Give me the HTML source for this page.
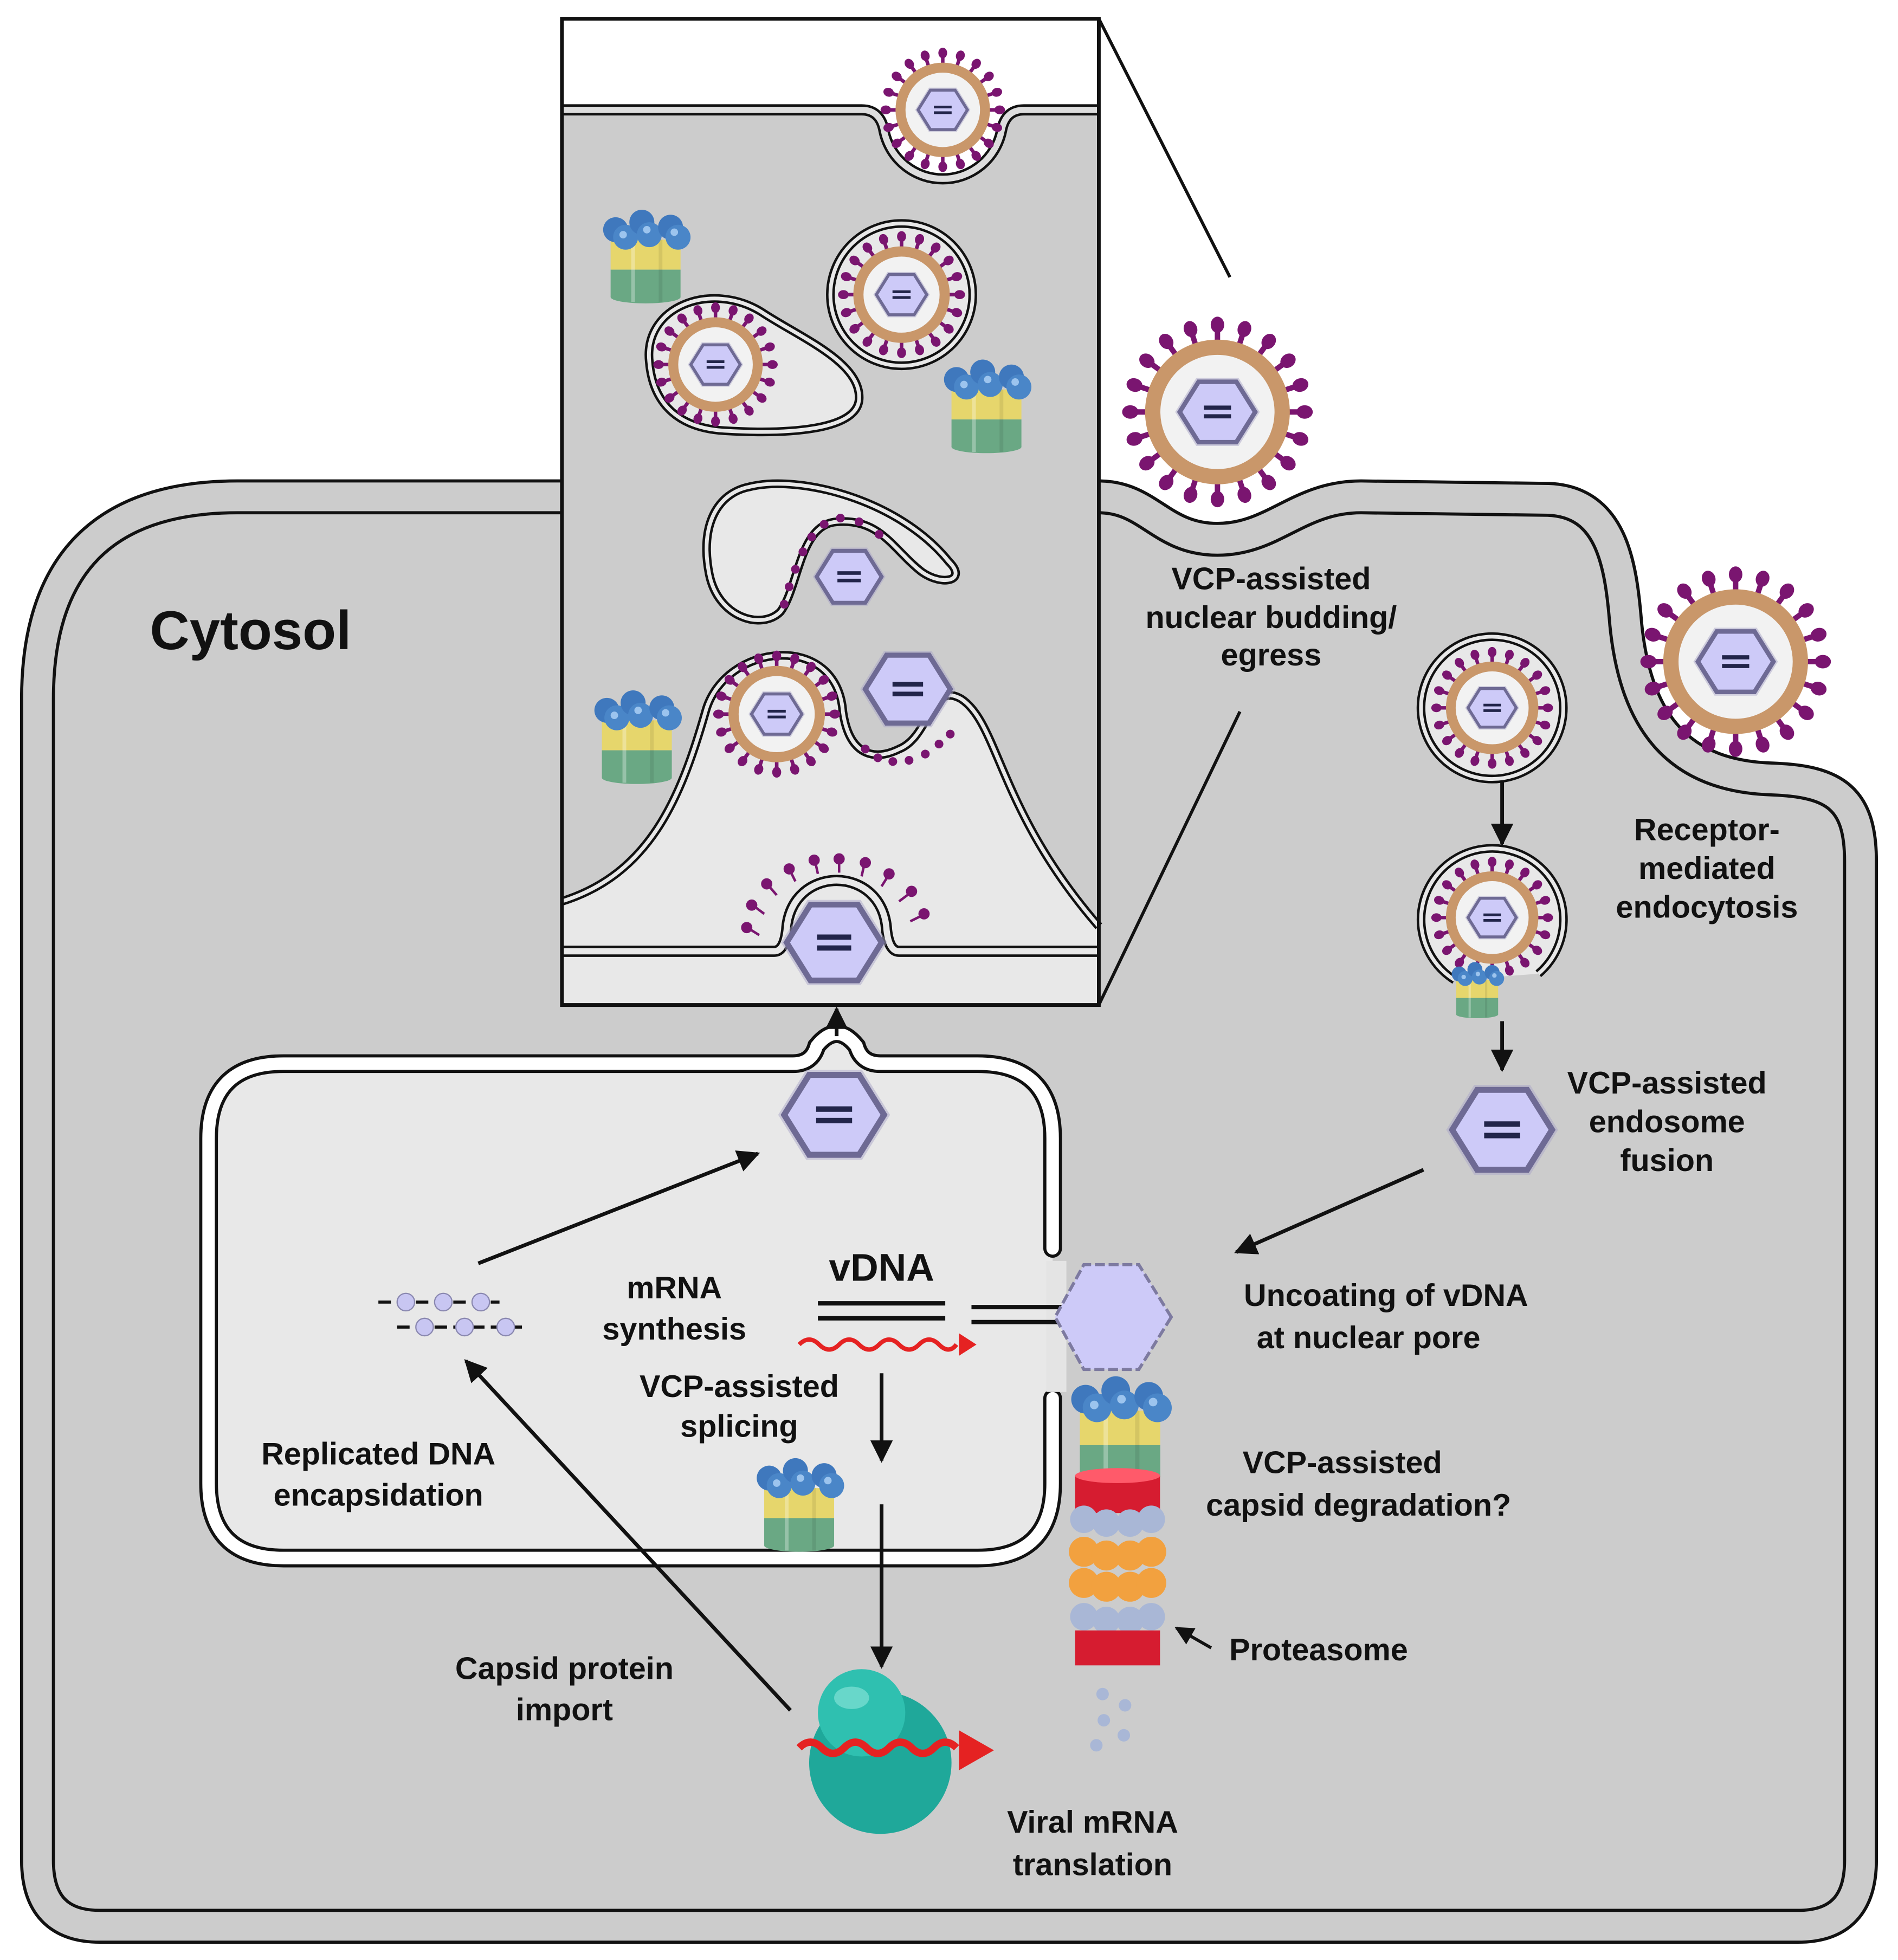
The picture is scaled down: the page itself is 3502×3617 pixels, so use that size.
<!DOCTYPE html>
<html><head><meta charset="utf-8"><style>
html,body{margin:0;padding:0;background:#fff}
svg{display:block}
text{font-family:"Liberation Sans",sans-serif;font-weight:bold;fill:#111}
</style></head><body>
<svg width="3502" height="3617" viewBox="0 0 1520 1570" xmlns="http://www.w3.org/2000/svg">
<defs>
<marker id="ah" viewBox="0 0 10 10" refX="9" refY="5" markerWidth="6" markerHeight="6" orient="auto-start-reverse"><path d="M0,0 L10,5 L0,10 Z" fill="#111"/></marker>
<g id="hex"><polygon points="1.12,0 0.56,0.9 -0.56,0.9 -1.12,0 -0.56,-0.9 0.56,-0.9" fill="#a9a6c8" opacity="0.5"/><polygon points="1,0 0.5,0.8 -0.5,0.8 -1,0 -0.5,-0.8 0.5,-0.8" fill="#cdcaf8" stroke="#6e6a94" stroke-width="0.12"/><rect x="-0.36" y="-0.17" width="0.72" height="0.11" fill="#22254a"/><rect x="-0.36" y="0.06" width="0.72" height="0.11" fill="#22254a"/></g>
<g id="sp"><line x1="0" y1="-0.8" x2="0" y2="-0.97" stroke="#7a1570" stroke-width="0.06"/><ellipse cx="0" cy="-0.97" rx="0.075" ry="0.09" fill="#7a1570"/></g>
<g id="vir">
<use href="#sp"/><use href="#sp" transform="rotate(18)"/><use href="#sp" transform="rotate(36)"/><use href="#sp" transform="rotate(54)"/><use href="#sp" transform="rotate(72)"/><use href="#sp" transform="rotate(90)"/><use href="#sp" transform="rotate(108)"/><use href="#sp" transform="rotate(126)"/><use href="#sp" transform="rotate(144)"/><use href="#sp" transform="rotate(162)"/><use href="#sp" transform="rotate(180)"/><use href="#sp" transform="rotate(198)"/><use href="#sp" transform="rotate(216)"/><use href="#sp" transform="rotate(234)"/><use href="#sp" transform="rotate(252)"/><use href="#sp" transform="rotate(270)"/><use href="#sp" transform="rotate(288)"/><use href="#sp" transform="rotate(306)"/><use href="#sp" transform="rotate(324)"/><use href="#sp" transform="rotate(342)"/>
<circle r="0.72" fill="#f2f2f2" stroke="#c9976a" stroke-width="0.17"/>
<use href="#hex" transform="scale(0.42)"/>
</g>
<g id="vcp">
<rect x="-28" y="0" width="56" height="24" fill="#e6d66c"/><rect x="-28" y="24" width="56" height="22" fill="#6aa884"/>
<ellipse cx="0" cy="46" rx="28" ry="5" fill="#6aa884"/>
<line x1="-10" y1="0" x2="-10" y2="50" stroke="#fff" stroke-opacity="0.3" stroke-width="3"/>
<line x1="12" y1="0" x2="12" y2="50" stroke="#000" stroke-opacity="0.08" stroke-width="3"/>
<circle cx="-24" cy="-8" r="10" fill="#3f78bd"/><circle cx="-16" cy="-2" r="10" fill="#4a86c8"/>
<circle cx="-3" cy="-14" r="10" fill="#3f78bd"/><circle cx="3" cy="-4" r="10" fill="#4a86c8"/>
<circle cx="20" cy="-10" r="10" fill="#3f78bd"/><circle cx="26" cy="-2" r="10" fill="#4a86c8"/>
<circle cx="-18" cy="-4" r="3" fill="#9cc4ee"/><circle cx="1" cy="-8" r="3" fill="#9cc4ee"/><circle cx="23" cy="-6" r="3" fill="#9cc4ee"/>
</g>
</defs>

<!-- cell -->
<path d="M30,560 Q30,398 190,398 L880,398 C920,398 930,432 975,432 C1020,432 1040,398 1090,398 L1240,400 C1290,402 1298,450 1302,500 C1310,580 1345,622 1420,624 C1470,626 1490,640 1490,690 L1490,1490 Q1490,1543 1440,1543 L80,1543 Q30,1543 30,1490 Z" fill="#cccccc" stroke="#111" stroke-width="28"/>
<path d="M30,560 Q30,398 190,398 L880,398 C920,398 930,432 975,432 C1020,432 1040,398 1090,398 L1240,400 C1290,402 1298,450 1302,500 C1310,580 1345,622 1420,624 C1470,626 1490,640 1490,690 L1490,1490 Q1490,1543 1440,1543 L80,1543 Q30,1543 30,1490 Z" fill="none" stroke="#cccccc" stroke-width="23"/>

<text x="120" y="520" font-size="44">Cytosol</text>

<!-- nucleus -->
<path d="M843,912 Q843,852 783,852 L705,852 Q690,852 686,838 Q670,818 654,838 Q650,852 635,852 L227,852 Q167,852 167,912 L167,1188 Q167,1248 227,1248 L783,1248 Q843,1248 843,1188 Z" fill="#e8e8e8"/>
<path d="M843,1000 L843,912 Q843,852 783,852 L705,852 Q690,852 686,838 Q670,818 654,838 Q650,852 635,852 L227,852 Q167,852 167,912 L167,1188 Q167,1248 227,1248 L783,1248 Q843,1248 843,1188 L843,1120" fill="none" stroke="#111" stroke-width="15" stroke-linecap="round"/>
<path d="M843,1000 L843,912 Q843,852 783,852 L705,852 Q690,852 686,838 Q670,818 654,838 Q650,852 635,852 L227,852 Q167,852 167,912 L167,1188 Q167,1248 227,1248 L783,1248 Q843,1248 843,1188 L843,1120" fill="none" stroke="#fff" stroke-width="10" stroke-linecap="round"/>
<rect x="838" y="1010" width="16" height="105" fill="#e4e4e4"/>

<use href="#hex" transform="translate(668,893) scale(40)"/>
<line x1="670" y1="830" x2="670" y2="808" stroke="#111" stroke-width="3" marker-end="url(#ah)"/>

<!-- inset box -->
<rect x="450" y="15" width="430" height="790" fill="#cccccc"/>
<path d="M450,15 L880,15 L880,88 L820,88 Q805,88 802,105 A48,48 0 0 1 708,105 Q705,88 690,88 L450,88 Z" fill="#fff"/>
<path d="M450,88 L690,88 Q705,88 708,105 A48,48 0 0 0 802,105 Q805,88 820,88 L880,88" fill="none" stroke="#111" stroke-width="9"/>
<path d="M450,88 L690,88 Q705,88 708,105 A48,48 0 0 0 802,105 Q805,88 820,88 L880,88" fill="none" stroke="#ddd" stroke-width="5"/>
<use href="#vir" transform="translate(755,88) scale(47)"/>

<!-- perinuclear lower region -->
<path d="M450,722 C520,700 545,640 565,570 C580,515 670,505 675,570 C680,605 700,610 720,600 C745,590 745,545 770,560 C800,580 800,650 880,742 L880,805 L450,805 Z" fill="#e8e8e8"/>
<path d="M450,722 C520,700 545,640 565,570 C580,515 670,505 675,570 C680,605 700,610 720,600 C745,590 745,545 770,560 C800,580 800,650 880,742" fill="none" stroke="#111" stroke-width="7"/>
<path d="M450,722 C520,700 545,640 565,570 C580,515 670,505 675,570 C680,605 700,610 720,600 C745,590 745,545 770,560 C800,580 800,650 880,742" fill="none" stroke="#e8e8e8" stroke-width="3"/>
<path d="M450,762 L620,762 Q628,762 630,745 C633,692 707,692 710,745 Q712,762 720,762 L880,762" fill="none" stroke="#111" stroke-width="9"/>
<path d="M450,762 L620,762 Q628,762 630,745 C633,692 707,692 710,745 Q712,762 720,762 L880,762" fill="none" stroke="#e8e8e8" stroke-width="5"/>
<!-- spikes on bump -->
<g stroke="#7a1570" stroke-width="2" fill="#7a1570" transform="translate(0,14)">
<line x1="608" y1="735" x2="600" y2="730"/><circle cx="598" cy="729" r="3.5"/>
<line x1="612" y1="718" x2="604" y2="712"/><circle cx="602" cy="711" r="3.5"/>
<line x1="622" y1="703" x2="616" y2="696"/><circle cx="614" cy="694" r="3.5"/>
<line x1="637" y1="692" x2="633" y2="684"/><circle cx="632" cy="682" r="3.5"/>
<line x1="655" y1="686" x2="653" y2="677"/><circle cx="652" cy="675" r="3.5"/>
<line x1="672" y1="685" x2="672" y2="676"/><circle cx="672" cy="674" r="3.5"/>
<line x1="690" y1="688" x2="692" y2="679"/><circle cx="693" cy="677" r="3.5"/>
<line x1="706" y1="696" x2="711" y2="688"/><circle cx="712" cy="686" r="3.5"/>
<line x1="720" y1="708" x2="728" y2="702"/><circle cx="730" cy="700" r="3.5"/>
<line x1="729" y1="724" x2="737" y2="720"/><circle cx="740" cy="718" r="3.5"/>
</g>
<use href="#hex" transform="translate(668,755) scale(38)"/>

<g fill="#7a1570">
<circle cx="693" cy="600" r="3.5"/><circle cx="703" cy="607" r="3.5"/><circle cx="715" cy="610" r="3.5"/><circle cx="728" cy="609" r="3.5"/><circle cx="741" cy="604" r="3.5"/><circle cx="752" cy="596" r="3.5"/><circle cx="761" cy="588" r="3.5"/>
</g>
<use href="#vir" transform="translate(622,572) scale(48)"/>
<use href="#hex" transform="translate(727,552) scale(34)"/>

<circle cx="722" cy="236" r="57" fill="#e8e8e8" stroke="#111" stroke-width="7"/>
<circle cx="722" cy="236" r="57" fill="none" stroke="#e8e8e8" stroke-width="3"/>
<use href="#vir" transform="translate(722,236) scale(48)"/>

<path d="M520,290 C515,245 570,225 610,250 C640,270 690,290 688,320 C686,345 630,348 580,345 C545,343 523,325 520,290 Z" fill="#e8e8e8" stroke="#111" stroke-width="7"/>
<path d="M520,290 C515,245 570,225 610,250 C640,270 690,290 688,320 C686,345 630,348 580,345 C545,343 523,325 520,290 Z" fill="none" stroke="#e8e8e8" stroke-width="3"/>
<use href="#vir" transform="translate(573,292) scale(47)"/>

<path d="M600,390 C640,380 720,400 760,450 C775,465 755,470 738,458 C715,440 705,415 670,418 C640,420 640,470 625,490 C610,505 575,495 568,460 C560,420 575,395 600,390 Z" fill="#e8e8e8" stroke="#111" stroke-width="7"/>
<path d="M600,390 C640,380 720,400 760,450 C775,465 755,470 738,458 C715,440 705,415 670,418 C640,420 640,470 625,490 C610,505 575,495 568,460 C560,420 575,395 600,390 Z" fill="none" stroke="#e8e8e8" stroke-width="3"/>
<g fill="#7a1570"><circle cx="628" cy="484" r="3.5"/><circle cx="632" cy="470" r="3.5"/><circle cx="637" cy="456" r="3.5"/><circle cx="643" cy="442" r="3.5"/><circle cx="650" cy="430" r="3.5"/><circle cx="660" cy="420" r="3.5"/><circle cx="673" cy="415" r="3.5"/><circle cx="688" cy="418" r="3.5"/><circle cx="704" cy="428" r="3.5"/></g>
<use href="#hex" transform="translate(680,462) scale(26)"/>

<use href="#vcp" transform="translate(517,192)"/>
<use href="#vcp" transform="translate(790,312)"/>
<use href="#vcp" transform="translate(510,577)"/>

<rect x="450" y="15" width="430" height="790" fill="none" stroke="#111" stroke-width="3"/>
<line x1="880" y1="15" x2="985" y2="222" stroke="#111" stroke-width="2.5"/>
<line x1="880" y1="805" x2="993" y2="570" stroke="#111" stroke-width="2.5"/>

<use href="#vir" transform="translate(975,330) scale(72)"/>
<use href="#vir" transform="translate(1390,530) scale(72)"/>

<circle cx="1195" cy="567" r="57" fill="#e8e8e8" stroke="#111" stroke-width="7"/>
<circle cx="1195" cy="567" r="57" fill="none" stroke="#e8e8e8" stroke-width="3"/>
<use href="#vir" transform="translate(1195,567) scale(46)"/>
<line x1="1203" y1="626" x2="1203" y2="676" stroke="#111" stroke-width="3" marker-end="url(#ah)"/>
<path d="M1165,785 A57,57 0 1 1 1232,780" fill="#e8e8e8" stroke="#111" stroke-width="7"/>
<path d="M1165,785 A57,57 0 1 1 1232,780" fill="none" stroke="#e8e8e8" stroke-width="3"/>
<use href="#vir" transform="translate(1195,735) scale(46)"/>
<use href="#vcp" transform="translate(1183,785) scale(0.6)"/>
<line x1="1203" y1="818" x2="1203" y2="857" stroke="#111" stroke-width="3" marker-end="url(#ah)"/>
<use href="#hex" transform="translate(1203,905) scale(40)"/>
<line x1="1140" y1="937" x2="990" y2="1003" stroke="#111" stroke-width="3" marker-end="url(#ah)"/>

<line x1="778" y1="1047" x2="852" y2="1047" stroke="#111" stroke-width="3.5"/>
<line x1="778" y1="1059" x2="852" y2="1059" stroke="#111" stroke-width="3.5"/>
<polygon points="938,1055 912,1097 868,1097 845,1055 868,1013 912,1013" fill="#cdcaf8" stroke="#7d7aa0" stroke-width="2.5" stroke-dasharray="8,3"/>
<use href="#vcp" transform="translate(897,1130) scale(1.15)"/>
<rect x="861" y="1182" width="68" height="30" fill="#d61c30"/><ellipse cx="895" cy="1182" rx="34" ry="6" fill="#ff5a6a"/>
<g fill="#a9b7d6"><circle cx="868" cy="1217" r="11"/><circle cx="886" cy="1220" r="11"/><circle cx="905" cy="1220" r="11"/><circle cx="922" cy="1217" r="11"/></g>
<g fill="#f2a13f"><circle cx="868" cy="1243" r="12"/><circle cx="886" cy="1246" r="12"/><circle cx="905" cy="1246" r="12"/><circle cx="922" cy="1243" r="12"/><circle cx="868" cy="1268" r="12"/><circle cx="886" cy="1271" r="12"/><circle cx="905" cy="1271" r="12"/><circle cx="922" cy="1268" r="12"/></g>
<g fill="#a9b7d6"><circle cx="868" cy="1295" r="11"/><circle cx="886" cy="1298" r="11"/><circle cx="905" cy="1298" r="11"/><circle cx="922" cy="1295" r="11"/></g>
<rect x="861" y="1306" width="68" height="28" fill="#d61c30"/>
<g fill="#a9b7d6"><circle cx="883" cy="1357" r="5"/><circle cx="901" cy="1366" r="5"/><circle cx="884" cy="1378" r="5"/><circle cx="900" cy="1390" r="5"/><circle cx="878" cy="1398" r="5"/></g>
<line x1="970" y1="1320" x2="942" y2="1304" stroke="#111" stroke-width="2.5" marker-end="url(#ah)"/>

<text x="706" y="1026" font-size="31" text-anchor="middle">vDNA</text>
<line x1="655" y1="1044" x2="757" y2="1044" stroke="#111" stroke-width="3.5"/>
<line x1="655" y1="1056" x2="757" y2="1056" stroke="#111" stroke-width="3.5"/>
<path d="M640,1077 q8,-8 16,0 t16,0 t16,0 t16,0 t16,0 t16,0 t16,0 t14,0" fill="none" stroke="#e52222" stroke-width="3.5"/>
<polygon points="768,1068 782,1077 768,1086" fill="#e52222"/>
<g stroke="#111" stroke-width="2.5"><line x1="303" y1="1043" x2="400" y2="1043" stroke-dasharray="10,5"/><line x1="318" y1="1063" x2="420" y2="1063" stroke-dasharray="10,5"/></g>
<g fill="#c8c6f2" stroke="#8a88b0" stroke-width="1"><circle cx="325" cy="1043" r="7"/><circle cx="355" cy="1043" r="7"/><circle cx="385" cy="1043" r="7"/><circle cx="340" cy="1063" r="7"/><circle cx="372" cy="1063" r="7"/><circle cx="405" cy="1063" r="7"/></g>
<line x1="383" y1="1012" x2="607" y2="924" stroke="#111" stroke-width="3" marker-end="url(#ah)"/>
<line x1="706" y1="1100" x2="706" y2="1170" stroke="#111" stroke-width="3" marker-end="url(#ah)"/>
<use href="#vcp" transform="translate(640,1192)"/>
<line x1="706" y1="1205" x2="706" y2="1335" stroke="#111" stroke-width="3" marker-end="url(#ah)"/>
<line x1="633" y1="1370" x2="373" y2="1090" stroke="#111" stroke-width="3" marker-end="url(#ah)"/>

<circle cx="705" cy="1412" r="57" fill="#1fa89a"/>
<circle cx="690" cy="1372" r="35" fill="#2fc0b0"/>
<ellipse cx="682" cy="1360" rx="14" ry="9" fill="#8fe6dc" opacity="0.6"/>
<path d="M640,1400 q9,-9 18,0 t18,0 t18,0 t18,0 t18,0 t18,0 t18,0" fill="none" stroke="#e52222" stroke-width="6"/>
<polygon points="768,1386 796,1402 768,1418" fill="#e52222"/>

<g font-size="25" text-anchor="middle">
<text x="1018" y="472">VCP-assisted</text><text x="1018" y="503">nuclear budding/</text><text x="1018" y="533">egress</text>
<text x="1367" y="673">Receptor-</text><text x="1367" y="704">mediated</text><text x="1367" y="735">endocytosis</text>
<text x="1335" y="876">VCP-assisted</text><text x="1335" y="907">endosome</text><text x="1335" y="938">fusion</text>
<text x="1110" y="1046">Uncoating of vDNA</text><text x="1096" y="1080">at nuclear pore</text>
<text x="1075" y="1180">VCP-assisted</text><text x="1088" y="1214">capsid degradation?</text>
<text x="1056" y="1330">Proteasome</text>
<text x="875" y="1468">Viral mRNA</text><text x="875" y="1502">translation</text>
<text x="452" y="1345">Capsid protein</text><text x="452" y="1378">import</text>
<text x="303" y="1173">Replicated DNA</text><text x="303" y="1206">encapsidation</text>
<text x="540" y="1040">mRNA</text><text x="540" y="1073">synthesis</text>
<text x="592" y="1119">VCP-assisted</text><text x="592" y="1151">splicing</text>
</g>
</svg>
</body></html>
